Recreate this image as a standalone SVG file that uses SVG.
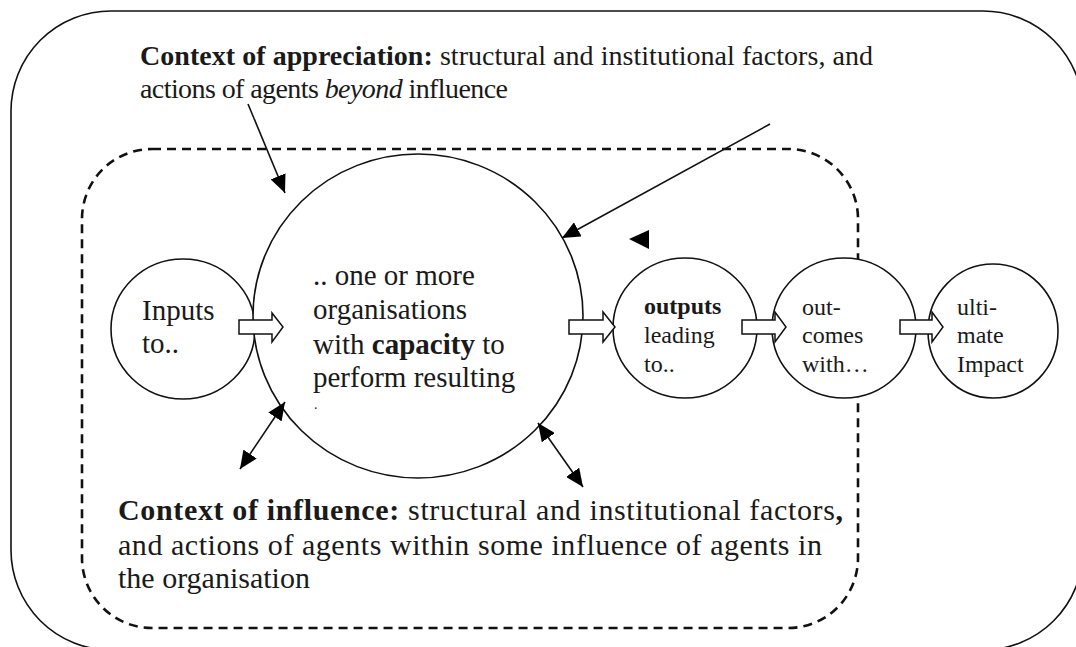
<svg xmlns="http://www.w3.org/2000/svg" width="1076" height="647" viewBox="0 0 1076 647">
  <style>
    .frame { fill: none; stroke: #111; stroke-width: 1.6; }
    .dashed { fill: none; stroke: #111; stroke-width: 2.6; stroke-dasharray: 9 6; }
    .node { fill: #fff; stroke: #111; stroke-width: 1.6; }
    .flow { fill: #fff; stroke: #111; stroke-width: 1.5; stroke-linejoin: miter; }
    .link { fill: none; stroke: #111; stroke-width: 1.6; }
    .head { fill: #000; }
    text { font-family: "Liberation Serif", "Times New Roman", serif; fill: #1a1a1a; }
    .t28 { font-size: 28px; }
    .t29 { font-size: 29px; }
    .t30 { font-size: 30px; }
    .t24 { font-size: 24px; }
    .t14 { font-size: 14px; }
    .b { font-weight: bold; }
    .i { font-style: italic; }
  </style>
  <defs>
    <marker id="tri" viewBox="0 0 18 16" refX="18" refY="8" markerWidth="18" markerHeight="16" markerUnits="userSpaceOnUse" orient="auto-start-reverse">
      <path d="M0,0 L18,8 L0,16 z" class="head"/>
    </marker>
  </defs>

  <!-- context of appreciation: outer frame -->
  <g id="context-appreciation">
    <rect x="11" y="11" width="1072" height="639" rx="100" ry="100" class="frame"/>
    <text class="t28" x="140" y="65" textLength="733"><tspan class="b">Context of appreciation:</tspan> structural and institutional factors, and</text>
    <text class="t28" x="140" y="98" textLength="368">actions of agents <tspan class="i">beyond</tspan> influence</text>
  </g>

  <!-- context of influence: dashed frame -->
  <g id="context-influence">
    <rect x="82" y="149" width="776" height="479" rx="70" ry="70" class="dashed"/>
    <text class="t30" x="118" y="520" textLength="725"><tspan class="b">Context of influence:</tspan> structural and institutional factors<tspan class="b">,</tspan></text>
    <text class="t30" x="118" y="555" textLength="704">and actions of agents within some influence of agents in</text>
    <text class="t30" x="118" y="588">the organisation</text>
  </g>

  <g id="inputs">
    <ellipse cx="183" cy="329" rx="72" ry="70" class="node"/>
    <text class="t29" x="142" y="320">Inputs</text>
    <text class="t29" x="142" y="353">to..</text>
  </g>

  <g id="organisations">
    <ellipse cx="418" cy="316" rx="165" ry="162" class="node"/>
    <text class="t29" x="313" y="285">.. one or more</text>
    <text class="t29" x="313" y="319">organisations</text>
    <text class="t29" x="313" y="354">with <tspan class="b">capacity</tspan> to</text>
    <text class="t29" x="313" y="387">perform resulting</text>
    <text class="t14" x="314" y="409">.</text>
  </g>

  <g id="outputs">
    <ellipse cx="685" cy="328" rx="72" ry="70" class="node"/>
    <text class="t24 b" x="644" y="314">outputs</text>
    <text class="t24" x="644" y="343">leading</text>
    <text class="t24" x="644" y="372">to..</text>
  </g>

  <g id="outcomes">
    <ellipse cx="844" cy="328" rx="72" ry="70" class="node"/>
    <text class="t24" x="802" y="315">out-</text>
    <text class="t24" x="802" y="343">comes</text>
    <text class="t24" x="802" y="372">with…</text>
  </g>

  <g id="impact">
    <ellipse cx="993" cy="331" rx="65" ry="67" class="node"/>
    <text class="t24" x="957" y="315">ulti-</text>
    <text class="t24" x="957" y="343">mate</text>
    <text class="t24" x="957" y="372">Impact</text>
  </g>

  <g id="connectors">
    <!-- block flow arrows between stages -->
    <polygon class="flow" points="239,320 272,320 272,313 283,327 272,342 272,334 239,334"/>
    <polygon class="flow" points="569,320 603,320 603,312 615,327 603,342 603,334 569,334"/>
    <polygon class="flow" points="742,320 775,320 775,312 786,327 775,342 775,334 742,334"/>
    <polygon class="flow" points="900,320 932,320 932,312 943,327 932,342 932,334 900,334"/>
    <!-- pressures from the wider context -->
    <line class="link" x1="248" y1="104" x2="285" y2="193" marker-end="url(#tri)"/>
    <line class="link" x1="770" y1="124" x2="562" y2="238" marker-end="url(#tri)"/>
    <polygon class="head" points="629,239 649,230 649,249"/>
    <!-- two-way influence -->
    <line class="link" x1="240" y1="469" x2="285" y2="402" marker-start="url(#tri)" marker-end="url(#tri)"/>
    <line class="link" x1="538" y1="423" x2="583" y2="487" marker-start="url(#tri)" marker-end="url(#tri)"/>
  </g>
</svg>
